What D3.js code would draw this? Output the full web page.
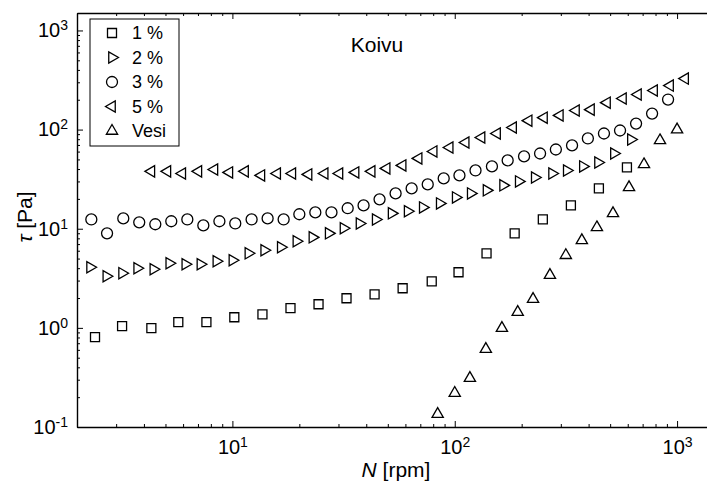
<!DOCTYPE html>
<meta charset="utf-8">
<style>
body { margin: 0; background: #fff; }
svg { display: block; font-family: "Liberation Sans", Arial, sans-serif; }
.axis path { stroke: #000; stroke-width: 1.4; fill: none; }
.axis line { stroke: #000; stroke-width: 1; }
.dot { fill: none; stroke: #000; stroke-width: 1.3; }
</style>
<body>
<script src="https://d3js.org/d3.v7.min.js"></script>
<script>
// 1 % (squares)
var n1   = [2.41, 3.19, 4.32, 5.71, 7.64, 10.2, 13.65, 18.25, 24.4, 32.6, 43.6, 58.3, 78.8, 104, 139, 186, 249, 333, 445, 595];
var tau1 = [0.806, 1.04, 0.993, 1.14, 1.14, 1.28, 1.37, 1.58, 1.73, 1.99, 2.18, 2.51, 2.95, 3.64, 5.65, 8.99, 12.4, 17.2, 25.5, 41.5];
// 2 % (right triangles)
var n2   = [2.29, 2.71, 3.19, 3.73, 4.41, 5.20, 6.14, 7.18, 8.47, 10.0, 11.8, 13.9, 16.5, 19.4, 22.9, 27.1, 31.6, 37.3, 44.1, 52.0,
            61.4, 71.8, 85.6, 101, 118, 139, 165, 194, 229, 274, 319, 377, 441, 520, 620];
var tau2 = [4.09, 3.32, 3.56, 3.99, 3.90, 4.48, 4.38, 4.38, 4.70, 4.81, 5.65, 6.06, 6.50, 7.47, 8.19, 8.99, 10.1, 11.3, 12.4, 14.3,
            15.0, 16.4, 18.0, 20.7, 22.7, 24.4, 27.4, 30.0, 32.9, 36.1, 38.7, 42.5, 46.6, 57.4, 79.5];
// 3 % (circles)
var n3   = [2.32, 2.73, 3.23, 3.81, 4.50, 5.31, 6.27, 7.40, 8.74, 10.3, 12.2, 14.4, 17.0, 20.0, 23.6, 27.9, 33.0, 38.9, 45.9, 54.2,
            64.0, 75.6, 89.2, 105, 124, 147, 173, 205, 242, 285, 337, 397, 469, 554, 654, 772, 911];
var tau3 = [12.4, 8.99, 12.7, 11.6, 11.1, 11.9, 12.4, 10.8, 11.9, 11.3, 12.4, 12.7, 12.4, 14.0, 14.6, 14.6, 16.1, 17.2, 19.8, 22.7,
            25.5, 28.0, 32.2, 34.5, 38.7, 42.5, 48.9, 53.6, 57.4, 63.0, 69.2, 81.4, 91.3, 97.9, 115, 145, 201];
// 5 % (left triangles)
var n5   = [4.32, 5.10, 5.95, 7.03, 8.30, 9.69, 11.4, 13.5, 15.9, 18.6, 22.0, 26.0, 30.3, 35.8, 42.3, 49.4, 58.3, 68.8, 80.4, 94.9,
            112, 132, 155, 183, 215, 252, 297, 351, 410, 484, 571, 667, 788, 930, 1087];
var tau5 = [37.9, 37.9, 36.1, 37.9, 39.6, 37.0, 37.9, 34.5, 36.1, 36.1, 35.3, 36.1, 36.1, 37.0, 37.9, 40.6, 43.5, 51.2, 60.2, 66.0,
            74.1, 83.2, 91.3, 105, 123, 132, 139, 156, 159, 187, 206, 226, 248, 278, 327];
// Vesi (up triangles)
var nVesi   = [83.8, 100, 117, 138, 163, 192, 225, 268, 316, 373, 436, 515, 608, 710, 838, 1000];
var tauVesi = [0.135, 0.220, 0.311, 0.610, 0.993, 1.44, 1.95, 3.40, 5.40, 7.64, 10.3, 14.3, 26.1, 44.5, 77.7, 100];

var legendLabels = ["1 %", "2 %", "3 %", "5 %", "Vesi"];
var xMajor = [10, 100, 1000];
var yMajor = [0.1, 1, 10, 100, 1000];

var margin = {top: 13, left: 77},
    width = 667,
    height = 414;

var x = d3.scaleLog().domain([2, 2000]).range([0, width]),
    y = d3.scaleLog().domain([0.1, 1500]).range([height, 0]);

function minors(lo, hi) {
  var out = [];
  for (var dec = 0.1; dec <= 1000; dec *= 10)
    for (var k = 2; k <= 9; k++) {
      var v = +(k * dec).toPrecision(3);
      if (v >= lo && v <= hi) out.push(v);
    }
  return out;
}
var xMinor = minors(2, 2000), yMinor = minors(0.1, 1500);

var svg = d3.select("body").append("svg")
    .attr("width", 707)
    .attr("height", 482);

var g = svg.append("g")
    .attr("transform", "translate(" + margin.left + "," + margin.top + ")");

function sup(sel) {
  sel.each(function(d) {
    var t = d3.select(this), e = Math.round(Math.log10(d));
    t.text(null);
    t.append("tspan").text("10");
    t.append("tspan").attr("dy", "-0.5em").attr("font-size", "14px").text(e);
  });
}

// bottom axis
g.append("g").attr("class", "axis")
    .attr("transform", "translate(0," + height + ")")
    .call(d3.axisBottom(x).tickValues(xMinor).tickSize(-3).tickSizeOuter(0).tickFormat(""));
var xa = g.append("g").attr("class", "axis")
    .attr("transform", "translate(0," + height + ")")
    .call(d3.axisBottom(x).tickValues(xMajor).tickSize(-6).tickSizeOuter(0).tickPadding(13));
xa.select(".domain").remove();
xa.selectAll("text").attr("font-size", "20px").attr("font-family", null).call(sup);

// top axis
g.append("g").attr("class", "axis")
    .call(d3.axisTop(x).tickValues(xMinor).tickSize(-3).tickSizeOuter(0).tickFormat(""));
g.append("g").attr("class", "axis")
    .call(d3.axisTop(x).tickValues(xMajor).tickSize(-6).tickSizeOuter(0).tickFormat(""))
    .select(".domain").remove();

// left axis
g.append("g").attr("class", "axis")
    .call(d3.axisLeft(y).tickValues(yMinor).tickSize(-3).tickSizeOuter(0).tickFormat(""));
var ya = g.append("g").attr("class", "axis")
    .call(d3.axisLeft(y).tickValues(yMajor).tickSize(-6).tickSizeOuter(0).tickPadding(9));
ya.select(".domain").remove();
ya.selectAll("text").attr("font-size", "20px").attr("font-family", null).call(sup);

// markers
var series = [
  {n: n1, tau: tau1, type: d3.symbolSquare, size: 81, rot: 0},
  {n: n2, tau: tau2, type: d3.symbolTriangle, size: 55, rot: 90},
  {n: n3, tau: tau3, type: d3.symbolCircle, size: 95, rot: 0},
  {n: n5, tau: tau5, type: d3.symbolTriangle, size: 55, rot: -90},
  {n: nVesi, tau: tauVesi, type: d3.symbolTriangle, size: 55, rot: 0}
];

series.forEach(function(s) {
  var pts = s.n.map(function(v, i) { return [v, s.tau[i]]; });
  g.append("g").selectAll("path")
      .data(pts)
    .enter().append("path")
      .attr("class", "dot")
      .attr("d", d3.symbol().type(s.type).size(s.size))
      .attr("transform", function(d) {
        return "translate(" + x(d[0]) + "," + y(d[1]) + ") rotate(" + s.rot + ")";
      });
});

// title
svg.append("text")
    .attr("x", 377).attr("y", 52)
    .attr("text-anchor", "middle")
    .attr("font-size", "21px")
    .text("Koivu");

// legend
var legend = svg.append("g").attr("transform", "translate(90,19)");
legend.append("rect")
    .attr("width", 89).attr("height", 127)
    .attr("fill", "#fff").attr("stroke", "#000").attr("stroke-width", 1);
legendLabels.forEach(function(lab, i) {
  var s = series[i], cy = 14 + i * 24.5;
  legend.append("path")
      .attr("class", "dot")
      .attr("d", d3.symbol().type(s.type).size(s.size))
      .attr("transform", "translate(22," + cy + ") rotate(" + s.rot + ")");
  legend.append("text")
      .attr("x", 42).attr("y", cy + 6)
      .attr("font-size", "18px")
      .text(lab);
});

// axis labels
var yl = svg.append("text")
    .attr("transform", "translate(32,217) rotate(-90)")
    .attr("text-anchor", "middle")
    .attr("font-size", "21px");
yl.append("tspan").attr("font-style", "italic").text("τ");
yl.append("tspan").text(" [Pa]");

var xl = svg.append("text")
    .attr("x", 396).attr("y", 477)
    .attr("text-anchor", "middle")
    .attr("font-size", "21px");
xl.append("tspan").attr("font-style", "italic").text("N");
xl.append("tspan").text(" [rpm]");
</script>
